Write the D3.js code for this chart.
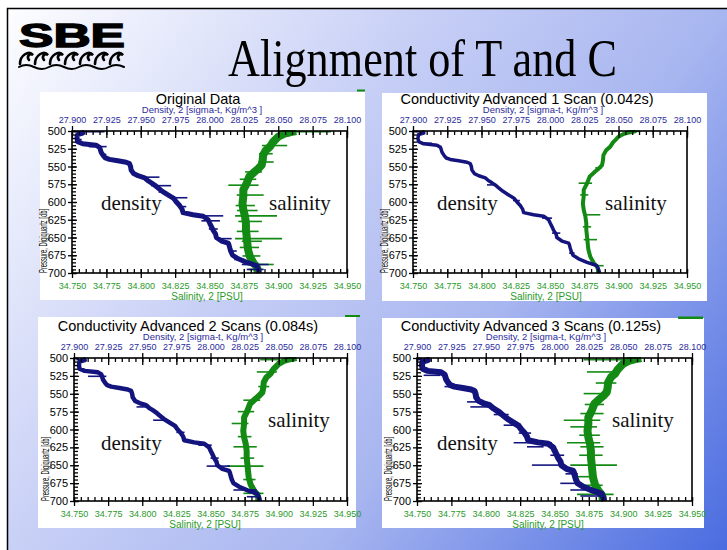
<!DOCTYPE html>
<html><head><meta charset="utf-8">
<script src="https://cdn.jsdelivr.net/npm/d3@7"></script>
<style>html,body{margin:0;padding:0;background:#fff;} svg{display:block;}</style>
</head><body>
<script>
// ---- CTD profile, 500–700 db ----
const densityPressure = [500,503,505,510,515,518,520,523,525,530,535,538,540,542,544,546,550,555,560,563,566,570,573,576,580,585,590,595,600,605,610,615,618,620,625,630,635,640,645,650,655,658,660,665,670,675,680,685,688,690,695,700];
const densityValues = [27.9066,27.9078,27.9041,27.9036,27.9041,27.9078,27.9175,27.9200,27.9204,27.9212,27.9229,27.9243,27.9272,27.9333,27.9394,27.9418,27.9426,27.9430,27.9448,27.9480,27.9528,27.9552,27.9577,27.9600,27.9625,27.9657,27.9698,27.9740,27.9759,27.9783,27.9800,27.9808,27.9880,27.9954,27.9990,28.0002,28.0015,28.0027,28.0044,28.0050,28.0087,28.0136,28.0141,28.0148,28.0156,28.0168,28.0209,28.0270,28.0319,28.0343,28.0355,28.0362];
const salinityPressure = [500,502,504,508,512,516,522,527,534,541,548,553,557,564,574,583,592,602,611,620,630,639,648,658,667,677,686,691,695,700];
const salinityValues = [34.913,34.908,34.904,34.900,34.898,34.896,34.894,34.891,34.889,34.8887,34.888,34.8855,34.883,34.879,34.877,34.8746,34.8746,34.874,34.8746,34.8758,34.8765,34.8765,34.877,34.8775,34.878,34.8794,34.882,34.8843,34.885,34.885];

// Axis ticks
const densityTicks = [27.900,27.925,27.950,27.975,28.000,28.025,28.050,28.075,28.100];
const salinityTicks = [34.750,34.775,34.800,34.825,34.850,34.875,34.900,34.925,34.950];
const pressureTicks = [500,525,550,575,600,625,650,675,700];

const panelTitles = ["Original Data","Conductivity Advanced 1 Scan (0.042s)","Conductivity Advanced 2 Scans (0.084s)","Conductivity Advanced 3 Scans (0.125s)"];

// Noise spikes: [pressure, from, to]
const densitySpikesOriginal = [[501,27.9012,27.9237],[512,27.9025,27.9070],[522,27.9122,27.9252],[533,27.9205,27.9250],[565,27.9477,27.9636],[577,27.9575,27.9721],[586,27.9630,27.9690],[594,27.9721,27.9839],[606.5,27.977,27.9831],[619.5,27.9917,28.010],[626.5,27.9941,28.0076],[638,27.9995,28.0060],[651.6,28.0039,28.0161],[669,28.0137,28.0198],[681,28.0180,28.0250],[688,28.0235,28.043],[695,28.0271,28.0394]];
const salinitySpikesOriginal = [[501,34.9028,34.9383],[506.5,34.8991,34.9089],[520.5,34.8881,34.9065],[532,34.8860,34.8960],[543.7,34.8857,34.8967],[557.7,34.8759,34.8881],[568,34.8720,34.8840],[576.3,34.8637,34.8857],[590.2,34.8698,34.8894],[605,34.8690,34.8830],[612,34.8700,34.8850],[619.5,34.8686,34.8991],[627.4,34.871,34.8881],[641.4,34.8698,34.8857],[651.6,34.8686,34.9028],[655.3,34.8735,34.8881],[664,34.8720,34.8860],[676,34.8740,34.8870],[688,34.8759,34.8967],[695,34.8784,34.8881]];
const densitySpikes1Scan = [[501,27.9017,27.909],[517.3,27.9066,27.9139],[575.9,27.954,27.9613],[598,27.9730,27.9780],[622.7,27.9942,28.0015],[643.8,28.0015,28.0075],[672,28.0140,28.0180]];
const salinitySpikes1Scan = [[500.5,34.9062,34.9159],[552,34.8830,34.8880],[573.5,34.8709,34.8807],[590,34.8720,34.8780],[618,34.8746,34.8867],[635,34.8740,34.8800],[653,34.8746,34.8843],[689.7,34.8831,34.8892]];
const densitySpikes2Scans = [[502.3,27.9017,27.9078],[525.6,27.9103,27.9237],[568.4,27.9458,27.9556],[587,27.958,27.9654],[604,27.9750,27.9810],[621.9,27.9911,28.0009],[640,28.0000,28.0060],[651.2,27.9972,28.0143],[684.6,28.0168,28.0339],[694,28.0266,28.0364]];
const salinitySpikes2Scans = [[502.3,34.8864,34.8998],[519.5,34.8839,34.8986],[540,34.8850,34.8930],[559,34.8741,34.8864],[575,34.8700,34.8820],[591.6,34.8655,34.8778],[610,34.8700,34.8800],[624.2,34.8668,34.8839],[640,34.8720,34.8820],[651.2,34.8619,34.8888],[670,34.8740,34.8830],[689.3,34.8741,34.8888]];
const densitySpikes3Scans = [[502.3,27.900,27.9085],[524.2,27.9048,27.917],[540,27.9200,27.9290],[561.4,27.9364,27.9497],[568.4,27.9388,27.9521],[579.1,27.9558,27.9667],[594,27.963,27.9739],[605,27.9740,27.9830],[618.6,27.9703,27.9982],[624.2,27.98,27.9921],[636,27.9970,28.0070],[649.8,27.9836,28.0042],[662,28.0080,28.0170],[675.3,28.0042,28.0164],[684.6,28.0115,28.0236],[693,28.0188,28.0357]];
const salinitySpikes3Scans = [[502.3,34.8712,34.9027],[519.5,34.8736,34.8942],[535,34.8800,34.8950],[549.8,34.8712,34.8857],[565,34.8720,34.8860],[577.7,34.8688,34.8857],[587,34.8567,34.8833],[596.3,34.8615,34.8809],[608,34.8680,34.8830],[618.6,34.8591,34.8833],[624.2,34.8688,34.8857],[636,34.8680,34.8850],[649.8,34.8615,34.8954],[666,34.8664,34.8809],[678,34.8700,34.8850],[690.7,34.8664,34.893]];

// ---- styles ----
const densColor = "#14147f";
const salColor = "#138a13";
const densTextColor = "#2b2b9c";
const salTextColor = "#2a9a2a";
const sans = "Liberation Sans, Arial, sans-serif";
const serif = "Liberation Serif, Times New Roman, serif";

const W = 727, H = 550;
const svg = d3.select("body").append("svg").attr("width", W).attr("height", H);
const defs = svg.append("defs");

// slide background
const grad = defs.append("linearGradient").attr("id", "bg")
  .attr("gradientUnits", "userSpaceOnUse").attr("x1", 0).attr("y1", 0).attr("x2", W).attr("y2", H);
[[0, "#ffffff"], [0.375, "#c8d0f6"], [0.64, "#a8b6f0"], [1, "#4a6ce0"]].forEach(([o, c]) =>
  grad.append("stop").attr("offset", o).attr("stop-color", c));
svg.append("rect").attr("width", W).attr("height", H).attr("fill", "#fff");
svg.append("rect").attr("x", 7).attr("y", 8).attr("width", W - 7).attr("height", H - 8).attr("fill", "url(#bg)");
svg.append("path").attr("d", `M7.5,${H}V8.5H${W}`).attr("fill", "none").attr("stroke", "#000").attr("stroke-width", 1.5);

// SBE logo
svg.append("text").attr("x", 19).attr("y", 47).attr("font-family", sans).attr("font-weight", 900)
  .attr("font-size", 34).attr("textLength", 106).attr("lengthAdjust", "spacingAndGlyphs")
  .attr("fill", "#000").attr("stroke", "#000").attr("stroke-width", 1.4).text("SBE");
const logoWaves = svg.append("g").attr("fill", "none").attr("stroke", "#000").attr("stroke-linecap", "round");
d3.range(7).forEach(i => {
  const x0 = 20 + i * 15;
  logoWaves.append("path").attr("stroke-width", 2.6)
    .attr("d", `M${x0},64 C${x0},55 ${x0 + 9},50 ${x0 + 13},55 C${x0 + 10},53 ${x0 + 6},56 ${x0 + 9},60`);
});
logoWaves.append("path").attr("stroke-width", 2)
  .attr("d", "M19,67 q7,-4 15,0 t15,0 t15,0 t15,0 t15,0 t15,0 t15,0");

// slide title
svg.append("text").attr("x", 228).attr("y", 76).attr("font-family", serif).attr("font-size", 53)
  .attr("textLength", 389).attr("lengthAdjust", "spacingAndGlyphs").attr("fill", "#000").text("Alignment of T and C");

const panels = [
  { title: panelTitles[0], box: [40, 92, 365, 300], plot: [72, 131, 347, 273], titleX: 198, densLabelX: 202, salLabelX: 207,
    densW: 5, salW: 8, dSp: densitySpikesOriginal, sSp: salinitySpikesOriginal, densText: [101, 210], salText: [269, 210] },
  { title: panelTitles[1], box: [382, 93, 707, 301], plot: [413, 131, 687, 273], titleX: 527, densLabelX: 543, salLabelX: 546,
    densW: 3.5, salW: 4, dSp: densitySpikes1Scan, sSp: salinitySpikes1Scan, densText: [437, 210], salText: [605, 210] },
  { title: panelTitles[2], box: [38, 317, 356, 528], plot: [74, 358, 347, 501], titleX: 188, densLabelX: 203, salLabelX: 205,
    densW: 4.5, salW: 6, dSp: densitySpikes2Scans, sSp: salinitySpikes2Scans, densText: [101, 450], salText: [268, 427] },
  { title: panelTitles[3], box: [382, 318, 704, 528], plot: [417, 358, 692, 501], titleX: 531, densLabelX: 546, salLabelX: 548,
    densW: 6, salW: 8, dSp: densitySpikes3Scans, sSp: salinitySpikes3Scans, densText: [437, 450], salText: [612, 427] }
];

const densityProfile = densityPressure.map((p, i) => [p, densityValues[i]]);
const salinityProfile = salinityPressure.map((p, i) => [p, salinityValues[i]]);
const fmt = d3.format(".3f");

function styleAxis(sel) {
  sel.attr("font-family", sans);
  sel.select(".domain").remove();
  sel.selectAll(".tick line").attr("stroke", "#000").attr("stroke-width", 1.3);
}

panels.forEach((p, k) => {
  const g = svg.append("g");
  const [L, T, R, B] = p.plot;
  g.append("rect").attr("x", p.box[0]).attr("y", p.box[1]).attr("width", p.box[2] - p.box[0])
    .attr("height", p.box[3] - p.box[1]).attr("fill", "#fff");

  const xD = d3.scaleLinear().domain([densityTicks[0], densityTicks[densityTicks.length - 1]]).range([L, R]);
  const xS = d3.scaleLinear().domain([salinityTicks[0], salinityTicks[salinityTicks.length - 1]]).range([L, R]);
  const y = d3.scaleLinear().domain([pressureTicks[0], pressureTicks[pressureTicks.length - 1]]).range([T, B]);

  const clipId = "clip" + k;
  defs.append("clipPath").attr("id", clipId)
    .append("rect").attr("x", L).attr("y", T - 1).attr("width", R - L).attr("height", B - T + 2);
  const plot = g.append("g").attr("clip-path", `url(#${clipId})`);

  // profiles with their noise spikes
  plot.append("path").datum(salinityProfile).attr("fill", "none").attr("stroke", salColor)
    .attr("stroke-width", p.salW).attr("stroke-linejoin", "round")
    .attr("d", d3.line().x(d => xS(d[1])).y(d => y(d[0])));
  plot.selectAll(".sspk").data(p.sSp).join("line").attr("stroke", salColor).attr("stroke-width", 1.6)
    .attr("x1", d => xS(d[1])).attr("x2", d => xS(d[2])).attr("y1", d => y(d[0])).attr("y2", d => y(d[0]));
  plot.append("path").datum(densityProfile).attr("fill", "none").attr("stroke", densColor)
    .attr("stroke-width", p.densW).attr("stroke-linejoin", "round")
    .attr("d", d3.line().x(d => xD(d[1])).y(d => y(d[0])));
  plot.selectAll(".dspk").data(p.dSp).join("line").attr("stroke", densColor).attr("stroke-width", 1.6)
    .attr("x1", d => xD(d[1])).attr("x2", d => xD(d[2])).attr("y1", d => y(d[0])).attr("y2", d => y(d[0]));

  // top axis (density)
  const ta = g.append("g").attr("transform", `translate(0,${T})`)
    .call(d3.axisTop(xD).tickValues(densityTicks).tickFormat(fmt).tickSizeInner(5).tickSizeOuter(0).tickPadding(3));
  styleAxis(ta);
  ta.selectAll(".tick line").attr("y1", 7).attr("y2", -5);
  ta.selectAll(".tick text").attr("fill", densTextColor).attr("font-size", 9);
  const tm = g.append("g").attr("transform", `translate(0,${T})`)
    .call(d3.axisTop(xD).ticks(40).tickSize(-4).tickFormat(""));
  styleAxis(tm);

  // bottom axis (salinity)
  const ba = g.append("g").attr("transform", `translate(0,${B})`)
    .call(d3.axisBottom(xS).tickValues(salinityTicks).tickFormat(fmt).tickSizeInner(5).tickSizeOuter(0).tickPadding(5));
  styleAxis(ba);
  ba.selectAll(".tick line").attr("y1", -4).attr("y2", 5);
  ba.selectAll(".tick text").attr("fill", salTextColor).attr("font-size", 9);
  const bm = g.append("g").attr("transform", `translate(0,${B})`)
    .call(d3.axisBottom(xS).ticks(40).tickSize(-4).tickFormat(""));
  styleAxis(bm);

  // left axis (pressure)
  const la = g.append("g").attr("transform", `translate(${L},0)`)
    .call(d3.axisLeft(y).tickValues(pressureTicks).tickSizeInner(4).tickSizeOuter(0).tickPadding(2));
  styleAxis(la);
  la.selectAll(".tick line").attr("x1", 5).attr("x2", -4);
  la.selectAll(".tick text").attr("fill", "#000").attr("font-size", 11);
  const lm = g.append("g").attr("transform", `translate(${L},0)`)
    .call(d3.axisLeft(y).ticks(40).tickSize(-4).tickFormat(""));
  styleAxis(lm);

  // frame
  g.append("rect").attr("x", L).attr("y", T).attr("width", R - L).attr("height", B - T)
    .attr("fill", "none").attr("stroke", "#000").attr("stroke-width", 1.6);

  // titles and axis names
  g.append("text").attr("x", p.titleX).attr("y", T - 27).attr("text-anchor", "middle")
    .attr("font-family", sans).attr("font-size", 14.5).attr("fill", "#000").text(p.title);
  g.append("text").attr("x", p.densLabelX).attr("y", T - 18).attr("text-anchor", "middle")
    .attr("font-family", sans).attr("font-size", 9.5).attr("fill", densTextColor).text("Density, 2 [sigma-t, Kg/m^3 ]");
  g.append("text").attr("x", p.salLabelX).attr("y", B + 26.5).attr("text-anchor", "middle")
    .attr("font-family", sans).attr("font-size", 10).attr("fill", salTextColor).text("Salinity, 2 [PSU]");
  g.append("text").attr("transform", `translate(${L - 25},${B - 32}) rotate(-90)`).attr("text-anchor", "middle")
    .attr("font-family", sans).attr("font-size", 10.5).attr("textLength", 64).attr("lengthAdjust", "spacingAndGlyphs")
    .attr("fill", "#000").text("Pressure, Digiquartz [db]");

  // curve names
  g.append("text").attr("x", p.densText[0]).attr("y", p.densText[1]).attr("font-family", serif)
    .attr("font-size", 21).attr("fill", "#111").text("density");
  g.append("text").attr("x", p.salText[0]).attr("y", p.salText[1]).attr("font-family", serif)
    .attr("font-size", 21).attr("fill", "#111").text("salinity");
});

// small green marks at panel corners
svg.append("g").attr("fill", salColor).selectAll("rect")
  .data([[357, 89.5, 8, 2], [345, 315, 15, 2], [678, 316.5, 25, 2.5]])
  .join("rect").attr("x", d => d[0]).attr("y", d => d[1]).attr("width", d => d[2]).attr("height", d => d[3]);
</script>
</body></html>
